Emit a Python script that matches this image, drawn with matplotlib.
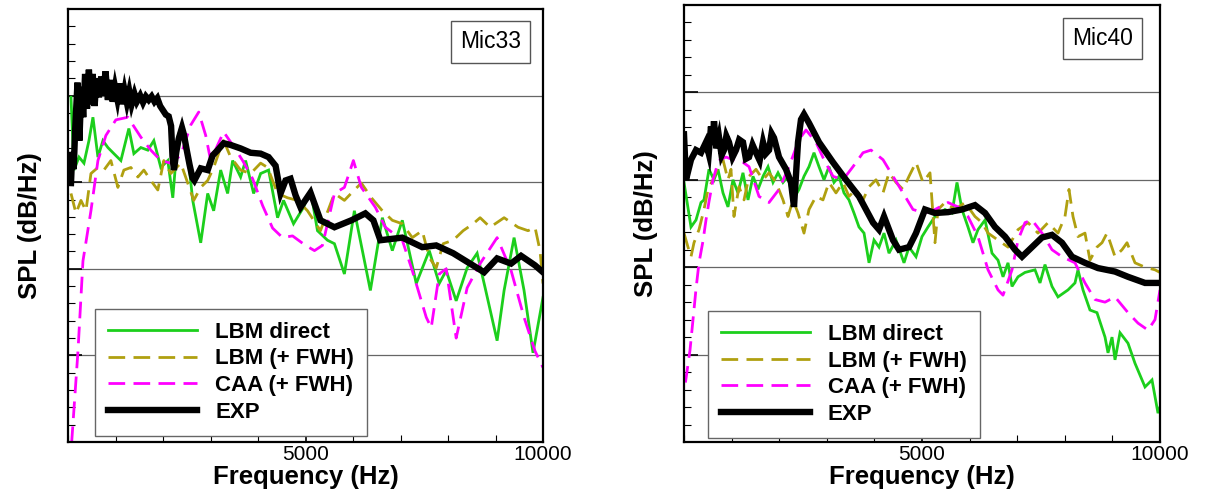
import matplotlib
matplotlib.use('Agg')
import matplotlib.pyplot as plt
from matplotlib.ticker import MultipleLocator, FixedLocator, NullFormatter, FixedFormatter

plt.rcParams['font.family'] = ['Liberation Sans', 'DejaVu Sans']

# ---------------- data (frequency in Hz, SPL in dB/Hz, arbitrary offset) ----------------
series_labels = ['LBM direct', 'LBM (+ FWH)', 'CAA (+ FWH)', 'EXP']
mic_names = ['Mic33', 'Mic40']
x_tick_values = [5000, 10000]
x_tick_labels = ['5000', '10000']

# ---- Mic33 ----
m33_exp_hz = [63, 90, 120, 150, 200, 240, 280, 320, 360, 400, 440, 480, 520, 560, 600, 650, 700,
              740, 790, 840, 890, 940, 990, 1040, 1090, 1140, 1190, 1240, 1290, 1340, 1400, 1450,
              1520, 1580, 1640, 1700, 1760, 1820, 1880, 1940, 2000, 2060, 2120, 2170, 2200, 2230,
              2280, 2330, 2400, 2440, 2500, 2560, 2620, 2660, 2794, 2941, 3046, 3151, 3277, 3424,
              3634, 3845, 4055, 4223, 4370, 4475, 4580, 4685, 4790, 4895, 5105, 5315, 5609, 5966,
              6260, 6429, 6576, 7038, 7458, 7752, 8109, 8613, 8760, 9034, 9328, 9538, 9832, 10000]
m33_exp_db = [29.9, 33.5, 31.5, 36.0, 41.5, 34.8, 41.0, 37.5, 42.5, 38.5, 43.0, 39.0, 42.5, 38.8,
              42.0, 39.8, 42.2, 40.0, 42.8, 39.5, 41.8, 39.3, 41.0, 39.6, 41.4, 39.0, 40.6, 39.2,
              40.5, 39.0, 40.2, 39.3, 40.0, 39.2, 39.9, 39.5, 39.9, 39.3, 39.7, 38.8, 38.3, 37.8,
              37.6, 36.5, 33.0, 31.4, 33.5, 35.0, 36.3, 35.5, 33.7, 32.0, 30.5, 30.2, 31.6, 31.4,
              33.1, 33.7, 34.5, 34.3, 33.9, 33.4, 33.3, 32.9, 31.9, 28.7, 30.2, 30.4, 28.5, 27.1,
              28.8, 25.6, 24.8, 25.6, 26.4, 25.6, 23.3, 23.6, 22.5, 22.7, 21.8, 20.1, 19.6, 21.2,
              20.6, 21.5, 20.4, 19.6]

m33_lbm_hz = [63, 126, 231, 336, 441, 525, 630, 735, 840, 966, 1113, 1281, 1387, 1534, 1681, 1807,
              1954, 2101, 2206, 2311, 2374, 2521, 2626, 2794, 2941, 3067, 3214, 3361, 3466, 3634,
              3739, 3908, 4055, 4223, 4412, 4538, 4748, 4958, 5105, 5252, 5462, 5609, 5819, 6029,
              6366, 6618, 6828, 7038, 7332, 7605, 7815, 7962, 8172, 8403, 8613, 8782, 9034, 9181,
              9391, 9601, 9790, 10000]
m33_lbm_db = [39.8, 31.4, 32.9, 32.2, 34.8, 37.5, 32.9, 34.8, 34.0, 33.3, 32.5, 36.2, 33.3, 34.0,
              33.7, 34.8, 31.7, 32.5, 28.2, 35.2, 36.3, 33.3, 27.9, 23.0, 28.7, 26.7, 31.4, 28.7,
              32.5, 30.6, 32.5, 28.7, 31.0, 31.4, 25.9, 27.9, 25.2, 27.1, 29.1, 24.4, 23.3, 22.9,
              19.4, 26.7, 17.5, 25.9, 22.1, 25.6, 18.3, 22.1, 18.3, 19.8, 16.3, 20.1, 21.8, 17.8,
              11.7, 17.5, 23.6, 17.5, 10.3, 16.7]

m33_fwh_hz = [63, 168, 273, 378, 483, 630, 756, 903, 1050, 1176, 1324, 1471, 1597, 1744, 1891,
              2017, 2164, 2374, 2521, 2647, 2794, 2941, 3067, 3214, 3277, 3424, 3634, 3845, 4055,
              4202, 4412, 4622, 4832, 5042, 5315, 5609, 5819, 6029, 6176, 6387, 6618, 6828, 7038,
              7248, 7458, 7605, 7752, 7899, 8109, 8319, 8529, 8676, 8887, 9181, 9475, 9685, 9832,
              9937, 10000]
m33_fwh_db = [28.7, 26.4, 27.9, 26.7, 31.0, 31.7, 31.4, 32.5, 29.4, 31.4, 31.7, 30.6, 31.4, 30.2,
              29.1, 32.5, 31.0, 32.2, 29.9, 27.9, 29.4, 30.2, 31.7, 34.0, 34.8, 32.9, 31.4, 31.0,
              32.2, 31.7, 28.7, 28.2, 27.9, 26.7, 24.4, 28.7, 27.9, 29.1, 29.9, 28.2, 26.7, 25.6,
              25.2, 23.6, 24.4, 21.3, 20.1, 22.9, 23.3, 24.4, 25.2, 25.9, 24.8, 25.9, 24.8, 24.4,
              24.8, 22.1, 18.3]

m33_caa_hz = [40, 210, 315, 483, 630, 798, 1008, 1261, 1534, 1744, 1954, 2164, 2374, 2584, 2752,
              2899, 3004, 3151, 3277, 3466, 3676, 3887, 4097, 4307, 4517, 4727, 5000, 5189, 5357,
              5609, 5819, 6008, 6176, 6471, 6681, 7038, 7248, 7542, 7647, 7815, 7962, 8172, 8403,
              8676, 9034, 9328, 9601, 9832, 10000]
m33_caa_db = [-3.0, 10.5, 20.9, 26.7, 32.5, 35.4, 37.2, 37.5, 35.2, 33.7, 32.5, 32.2, 33.1, 36.6,
              38.1, 35.4, 32.5, 34.3, 35.8, 34.3, 32.5, 30.4, 27.3, 24.7, 23.6, 23.8, 22.7, 22.1,
              22.7, 28.7, 29.4, 32.5, 29.4, 27.1, 24.8, 23.3, 19.8, 14.4, 13.2, 19.4, 20.0, 12.0,
              17.8, 20.6, 23.6, 19.8, 14.4, 10.5, 8.6]

# ---- Mic40 ----
m40_exp_hz = [0, 42, 147, 252, 357, 462, 520, 567, 600, 630, 680, 735, 790, 840, 890, 945, 1020,
              1092, 1160, 1239, 1300, 1366, 1440, 1513, 1590, 1660, 1720, 1786, 1840, 1891, 1996,
              2143, 2248, 2311, 2395, 2458, 2521, 2626, 2836, 3130, 3403, 3676, 3971, 4097, 4202,
              4391, 4517, 4727, 4874, 5063, 5273, 5546, 5840, 6113, 6324, 6534, 6744, 6954, 7101,
              7311, 7521, 7731, 7941, 8151, 8424, 8697, 9055, 9328, 9685, 10000]
m40_exp_db = [35.2, 30.0, 32.3, 33.4, 33.1, 34.3, 33.0, 36.1, 34.0, 36.7, 33.6, 34.9, 32.8, 33.4,
              35.0, 34.3, 32.6, 33.4, 34.6, 34.3, 32.4, 32.6, 34.0, 33.1, 32.2, 34.3, 33.0, 33.4,
              35.3, 34.8, 32.6, 31.2, 29.7, 26.9, 34.3, 36.9, 37.5, 36.5, 34.3, 32.0, 30.0, 28.1,
              25.1, 24.3, 25.8, 23.1, 22.0, 22.3, 23.9, 26.6, 26.2, 26.3, 26.6, 27.1, 26.2, 24.6,
              23.5, 22.0, 21.2, 22.3, 23.4, 23.7, 22.8, 21.2, 20.5, 19.9, 19.5, 18.9, 18.2, 18.2]

m40_lbm_hz = [0, 147, 252, 357, 420, 525, 630, 714, 819, 924, 1029, 1134, 1239, 1345, 1450, 1555,
              1660, 1765, 1870, 1975, 2080, 2185, 2290, 2416, 2521, 2626, 2731, 2836, 2941, 3046,
              3151, 3256, 3361, 3466, 3571, 3676, 3782, 3887, 3992, 4097, 4202, 4307, 4454, 4622,
              4727, 4874, 5000, 5126, 5273, 5483, 5630, 5735, 5840, 5966, 6071, 6176, 6324, 6471,
              6597, 6702, 6807, 6891, 7017, 7164, 7374, 7479, 7584, 7731, 7857, 8067, 8214, 8277,
              8382, 8529, 8676, 8845, 8908, 8992, 9055, 9160, 9328, 9475, 9685, 9832, 9958, 10000]
m40_lbm_db = [29.7, 24.6, 25.4, 27.4, 27.7, 31.2, 30.0, 31.2, 28.5, 26.9, 30.0, 28.5, 30.8, 27.7,
              30.4, 28.9, 30.4, 31.5, 29.7, 30.8, 29.7, 30.4, 27.7, 28.9, 30.4, 31.5, 33.1, 31.5,
              30.0, 31.5, 29.7, 30.4, 28.5, 27.7, 26.2, 24.6, 23.9, 20.5, 23.1, 22.3, 23.9, 21.6,
              23.1, 20.5, 22.3, 21.2, 23.5, 24.6, 25.8, 26.6, 26.2, 29.7, 26.6, 24.6, 22.8, 24.3,
              25.4, 21.6, 20.8, 18.9, 20.5, 17.8, 18.9, 19.4, 19.7, 18.2, 20.3, 17.8, 16.6, 17.4,
              18.2, 19.7, 17.4, 15.1, 14.8, 12.0, 10.2, 12.0, 9.4, 12.5, 11.3, 9.0, 6.3, 7.1, 3.3,
              4.0]

m40_fwh_hz = [0, 84, 147, 210, 315, 420, 504, 609, 714, 819, 924, 987, 1050, 1155, 1261, 1366,
              1513, 1660, 1786, 1933, 2080, 2185, 2290, 2395, 2521, 2626, 2773, 2920, 3046, 3193,
              3340, 3466, 3613, 3761, 3887, 4034, 4181, 4307, 4454, 4601, 4727, 4874, 5021, 5168,
              5273, 5336, 5483, 5693, 5903, 6113, 6261, 6387, 6597, 6807, 7017, 7227, 7437, 7647,
              7857, 8004, 8088, 8172, 8277, 8424, 8529, 8676, 8782, 8887, 9055, 9202, 9307, 9475,
              9685, 9895, 10000]
m40_fwh_db = [23.9, 22.3, 21.2, 22.8, 24.3, 26.6, 28.9, 30.0, 31.5, 32.3, 30.0, 31.2, 25.8, 29.2,
              27.7, 30.4, 31.2, 30.0, 30.8, 29.7, 27.7, 25.8, 27.7, 26.2, 23.9, 26.6, 28.1, 27.7,
              29.7, 28.5, 29.7, 28.1, 28.9, 27.7, 29.2, 30.0, 28.5, 30.8, 29.7, 28.9, 30.4, 32.0,
              29.7, 30.8, 22.8, 26.6, 27.4, 26.6, 27.4, 25.8, 25.1, 23.9, 23.1, 22.3, 24.3, 25.1,
              23.9, 25.1, 23.9, 25.8, 28.9, 25.8, 23.5, 23.9, 20.8, 22.3, 22.8, 23.9, 21.2, 22.0,
              22.8, 20.5, 20.0, 19.7, 19.4]

m40_caa_hz = [30, 126, 189, 252, 315, 399, 462, 525, 609, 672, 756, 882, 1029, 1239, 1366, 1576,
              1786, 1996, 2206, 2416, 2563, 2773, 2941, 3130, 3340, 3550, 3761, 3929, 4181, 4391,
              4601, 4811, 5063, 5273, 5546, 5756, 5966, 6176, 6387, 6597, 6702, 6891, 7017, 7164,
              7311, 7521, 7731, 7941, 8214, 8424, 8634, 8845, 9055, 9328, 9538, 9748, 9895, 10000]
m40_caa_db = [6.8, 10.5, 14.0, 17.5, 20.5, 23.0, 25.4, 27.5, 30.0, 31.2, 32.3, 32.6, 32.3, 32.0,
              31.5, 28.1, 27.4, 28.9, 31.5, 34.6, 35.7, 34.3, 32.3, 30.4, 30.0, 31.5, 33.1, 33.4,
              32.3, 30.4, 28.5, 26.6, 26.2, 26.6, 27.4, 26.9, 25.8, 23.5, 19.7, 17.4, 16.8, 19.7,
              23.1, 25.1, 25.4, 23.9, 22.0, 21.2, 20.5, 18.2, 16.3, 16.0, 16.6, 14.8, 13.6, 12.8,
              14.0, 17.4]

panels = [
    (mic_names[0], [(m33_lbm_hz, m33_lbm_db), (m33_fwh_hz, m33_fwh_db),
                    (m33_caa_hz, m33_caa_db), (m33_exp_hz, m33_exp_db)]),
    (mic_names[1], [(m40_lbm_hz, m40_lbm_db), (m40_fwh_hz, m40_fwh_db),
                    (m40_caa_hz, m40_caa_db), (m40_exp_hz, m40_exp_db)]),
]

# ---------------- styles ----------------
styles = [
    dict(color='#1ccf1c', lw=2.0, ls='-'),
    dict(color='#b0a010', lw=2.0, ls=(0, (6, 3))),
    dict(color='#ff00ff', lw=2.0, ls=(0, (6, 3))),
    dict(color='black', lw=4.6, ls='-'),
]

fig = plt.figure(figsize=(12.05, 4.91), dpi=100)
W, H = 1205, 491
axes_px = [(68, 9, 543, 442), (684, 5, 1160, 442)]
legend_anchor = [(0.057, 0.014), (0.050, 0.009)]
label_xy = [(0.89, 0.924), (0.88, 0.924)]

for i, (name, data) in enumerate(panels):
    l, t, r, b = axes_px[i]
    ax = fig.add_axes([l / W, 1 - b / H, (r - l) / W, (b - t) / H])
    lines = []
    for (hz, db), st, lab in zip(data, styles, series_labels):
        ln, = ax.plot(hz, db, color=st['color'], lw=st['lw'], ls=st['ls'], label=lab,
                      solid_joinstyle='miter')
        lines.append(ln)
    ax.set_xlim(0, 10000)
    ax.set_ylim(0, 50)
    ax.xaxis.set_major_locator(FixedLocator(x_tick_values))
    ax.xaxis.set_major_formatter(FixedFormatter(x_tick_labels))
    ax.xaxis.set_minor_locator(MultipleLocator(1000))
    ax.yaxis.set_major_locator(MultipleLocator(10))
    ax.yaxis.set_minor_locator(MultipleLocator(2))
    ax.yaxis.set_major_formatter(NullFormatter())
    ax.tick_params(which='major', direction='in', length=10, width=1.2, labelsize=15,
                   top=False, right=False, pad=2)
    ax.tick_params(which='minor', direction='in', length=5, width=0.8, top=False, right=False)
    for yv in [10, 20, 30, 40]:
        ax.axhline(yv, color='#666666', lw=0.9, zorder=0.5)
    for sp in ax.spines.values():
        sp.set_linewidth(1.6)
    ax.set_xlabel('Frequency (Hz)', fontsize=18.5, fontweight='bold')
    ax.set_ylabel('SPL (dB/Hz)', fontsize=18.5, fontweight='bold')
    ax.xaxis.set_label_coords(0.5, -0.052)
    ax.yaxis.set_label_coords(-0.055, 0.5)
    ax.text(label_xy[i][0], label_xy[i][1], name, transform=ax.transAxes, fontsize=16.5,
            ha='center', va='center',
            bbox=dict(boxstyle='square,pad=0.4', fc='white', ec='#555555', lw=1.0))
    leg = ax.legend(handles=lines, loc='lower left', bbox_to_anchor=legend_anchor[i],
                    borderaxespad=0, fancybox=False, framealpha=1, edgecolor='#666666',
                    prop={'weight': 'bold', 'size': 16}, handlelength=4.0, handletextpad=0.8,
                    labelspacing=0.25, borderpad=0.6)
    leg.get_frame().set_linewidth(1.0)

fig.savefig('out.png', dpi=100)
